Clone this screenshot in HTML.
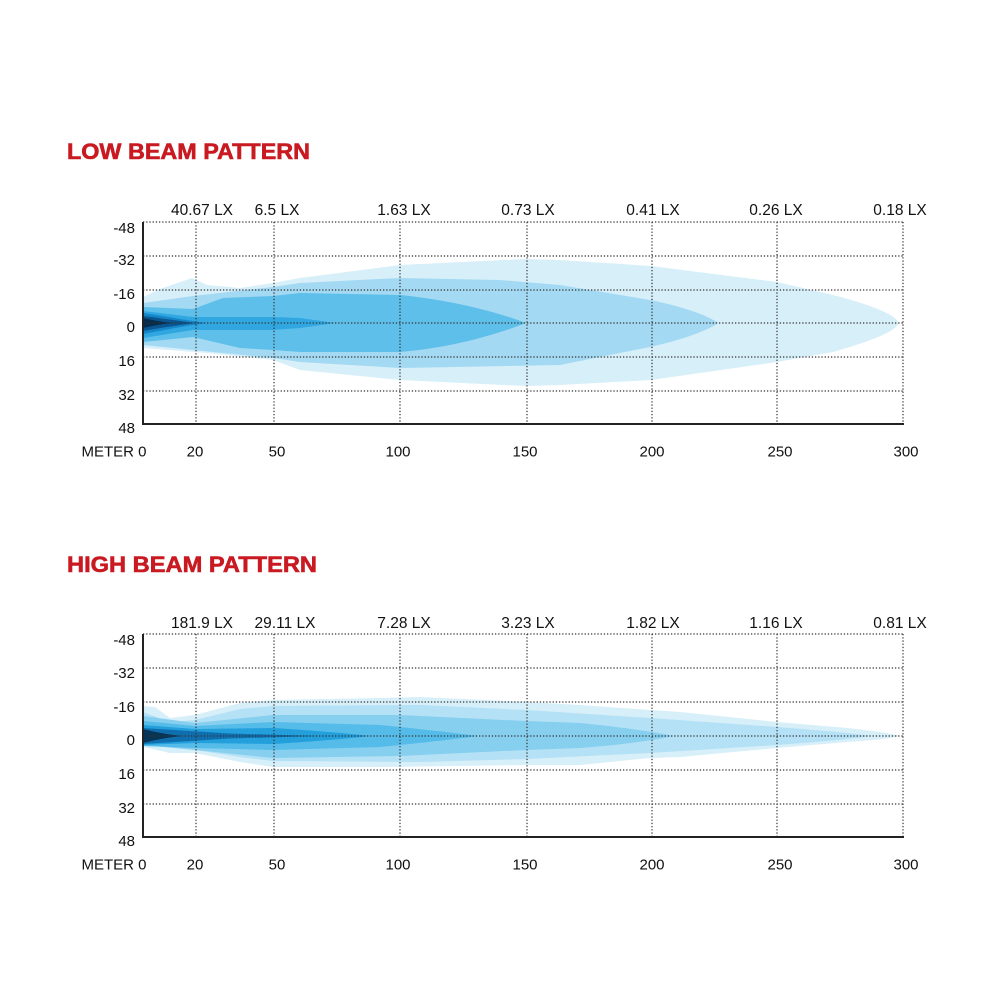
<!DOCTYPE html>
<html><head><meta charset="utf-8"><style>
html,body{margin:0;padding:0;background:#fff;}
svg{display:block;}
text{font-family:"Liberation Sans",Arial,sans-serif;}
</style></head><body>
<svg width="1000" height="1000" viewBox="0 0 1000 1000" xmlns="http://www.w3.org/2000/svg">
<rect width="1000" height="1000" fill="#fff"/>

<!-- ============ LOW BEAM ============ -->
<text x="67" y="159" font-size="22" font-weight="bold" fill="#c91a22" stroke="#c91a22" stroke-width="0.6" textLength="243" lengthAdjust="spacingAndGlyphs">LOW BEAM PATTERN</text>

<g font-size="15.5" fill="#111" text-anchor="middle">
<text x="202" y="215">40.67 LX</text>
<text x="277" y="215">6.5 LX</text>
<text x="404" y="215">1.63 LX</text>
<text x="528" y="215">0.73 LX</text>
<text x="653" y="215">0.41 LX</text>
<text x="776" y="215">0.26 LX</text>
<text x="900" y="215">0.18 LX</text>
</g>

<!-- beams -->
<path fill="#d7eff9" d="M143,297 L160,289 L192,278 L207,285 L240,288 L273,283 L300,278 L400,265 L526,259 L560,260 L651,266 L777,282 L833,295 C868,304 898,315 898,323 C898,331 868,342 833,352 L777,362 L651,380 L560,385 L526,386 L400,380 L300,370 L273,360 L207,353 L143,348 Z"/>
<path fill="#a3d9f2" d="M143,303 L193,296 L273,287 L300,283 L400,278 L500,280 L560,285 L650,300 C690,308 712,318 718,323 C712,328 690,338 650,347 L560,365 L400,368 L300,362 L273,358 L193,350 L143,345 Z"/>
<path fill="#5ebfea" d="M143,307 L193,309 L223,298 L273,296 L300,293 L400,295 C460,301 505,315 526,323 C505,331 460,347 400,352 L300,352 L273,350 L240,348 L193,337 L143,342 Z"/>
<path fill="#30a7e1" d="M143,311 L193,317 L273,317 L300,318 C315,320 328,322 335,323 C328,324 315,326 300,328 L273,330 L193,330 L143,338 Z"/>
<path fill="#1686c9" d="M143,313 C165,316 190,321 207,323 C190,325 165,330 143,334 Z"/>
<path fill="#0a5690" d="M143,316 C160,318 180,321 195,323 C180,325 160,328 143,331 Z"/>
<path fill="#062d4c" d="M143,318 C152,320 162,322 172,323 C162,324 152,326 143,328 Z"/>

<!-- grid -->
<g stroke="#333" stroke-width="1.2" stroke-dasharray="1.3 1.9" fill="none">
<line x1="143" y1="222" x2="903" y2="222"/>
<line x1="143" y1="256" x2="903" y2="256"/>
<line x1="143" y1="290" x2="903" y2="290"/>
<line x1="143" y1="323" x2="903" y2="323"/>
<line x1="143" y1="357" x2="903" y2="357"/>
<line x1="143" y1="391" x2="903" y2="391"/>
<line x1="196" y1="222" x2="196" y2="424"/>
<line x1="274" y1="222" x2="274" y2="424"/>
<line x1="400" y1="222" x2="400" y2="424"/>
<line x1="527" y1="222" x2="527" y2="424"/>
<line x1="652" y1="222" x2="652" y2="424"/>
<line x1="777" y1="222" x2="777" y2="424"/>
<line x1="903" y1="222" x2="903" y2="424"/>
</g>
<g stroke="#222" stroke-width="2" fill="none">
<line x1="143" y1="222" x2="143" y2="425"/>
<line x1="142" y1="424" x2="904" y2="424"/>
</g>

<g font-size="15" fill="#111" text-anchor="end">
<text x="135" y="233">-48</text>
<text x="135" y="265">-32</text>
<text x="135" y="299">-16</text>
<text x="135" y="332">0</text>
<text x="135" y="366">16</text>
<text x="135" y="400">32</text>
<text x="135" y="433">48</text>
</g>
<g font-size="15" fill="#111" text-anchor="middle">
<text x="114" y="456.5">METER 0</text>
<text x="195" y="456.5">20</text>
<text x="277" y="456.5">50</text>
<text x="398" y="456.5">100</text>
<text x="525" y="456.5">150</text>
<text x="652" y="456.5">200</text>
<text x="780" y="456.5">250</text>
<text x="906" y="456.5">300</text>
</g>

<!-- ============ HIGH BEAM ============ -->
<text x="67" y="572" font-size="22" font-weight="bold" fill="#c91a22" stroke="#c91a22" stroke-width="0.6" textLength="250" lengthAdjust="spacingAndGlyphs">HIGH BEAM PATTERN</text>

<g font-size="15.5" fill="#111" text-anchor="middle">
<text x="202" y="628">181.9 LX</text>
<text x="285" y="628">29.11 LX</text>
<text x="404" y="628">7.28 LX</text>
<text x="528" y="628">3.23 LX</text>
<text x="653" y="628">1.82 LX</text>
<text x="776" y="628">1.16 LX</text>
<text x="900" y="628">0.81 LX</text>
</g>

<path fill="#d7eff9" d="M143,706 L155,707 L170,718 L195,715 L240,703 L273,700 L380,698 L420,697 L527,702 L580,705 L650,710 L680,712 L777,722 L847,728 C875,731 895,734 899,736 C895,738 875,740 847,742 L777,748 L680,757 L650,758 L580,765 L527,765 L380,767 L273,767 L240,762 L195,753 L170,753 L143,747 Z"/>
<path fill="#b4e1f5" d="M143,712 L170,722 L195,720 L240,709 L273,706 L420,705 L527,710 L650,718 L777,727 C830,731 860,734 870,736 C860,738 830,741 777,745 L650,753 L527,759 L420,762 L273,761 L240,757 L195,750 L143,744 Z"/>
<path fill="#86cfef" d="M143,716 L195,723 L273,715 L400,715 L526,721 L580,723 C630,728 660,733 673,736 C660,739 630,744 580,748 L526,750 L400,756 L273,758 L195,750 L143,745 Z"/>
<path fill="#55bce9" d="M143,721 L195,726 L273,722 L380,725 C430,730 465,734 477,736 C465,738 430,742 380,747 L273,750 L195,748 L143,746 Z"/>
<path fill="#239fdc" d="M143,725 L195,729 L273,728 C320,731 355,734 370,736 C355,738 320,741 273,744 L195,743 L143,745 Z"/>
<path fill="#0f6fae" d="M143,728 L230,733.5 L320,736 L230,738.5 L143,744 Z"/>
<path fill="#073558" d="M143,729 C155,732 170,735 182,736 C170,737 155,740 143,743 Z"/>

<g stroke="#333" stroke-width="1.2" stroke-dasharray="1.3 1.9" fill="none">
<line x1="143" y1="634" x2="903" y2="634"/>
<line x1="143" y1="668" x2="903" y2="668"/>
<line x1="143" y1="702" x2="903" y2="702"/>
<line x1="143" y1="736" x2="903" y2="736"/>
<line x1="143" y1="770" x2="903" y2="770"/>
<line x1="143" y1="804" x2="903" y2="804"/>
<line x1="196" y1="634" x2="196" y2="837"/>
<line x1="274" y1="634" x2="274" y2="837"/>
<line x1="400" y1="634" x2="400" y2="837"/>
<line x1="527" y1="634" x2="527" y2="837"/>
<line x1="652" y1="634" x2="652" y2="837"/>
<line x1="777" y1="634" x2="777" y2="837"/>
<line x1="903" y1="634" x2="903" y2="837"/>
</g>
<g stroke="#222" stroke-width="2" fill="none">
<line x1="143" y1="634" x2="143" y2="838"/>
<line x1="142" y1="837" x2="904" y2="837"/>
</g>

<g font-size="15" fill="#111" text-anchor="end">
<text x="135" y="645">-48</text>
<text x="135" y="678">-32</text>
<text x="135" y="712">-16</text>
<text x="135" y="745">0</text>
<text x="135" y="779">16</text>
<text x="135" y="813">32</text>
<text x="135" y="846">48</text>
</g>
<g font-size="15" fill="#111" text-anchor="middle">
<text x="114" y="869.5">METER 0</text>
<text x="195" y="869.5">20</text>
<text x="277" y="869.5">50</text>
<text x="398" y="869.5">100</text>
<text x="525" y="869.5">150</text>
<text x="652" y="869.5">200</text>
<text x="780" y="869.5">250</text>
<text x="906" y="869.5">300</text>
</g>
</svg>
</body></html>
